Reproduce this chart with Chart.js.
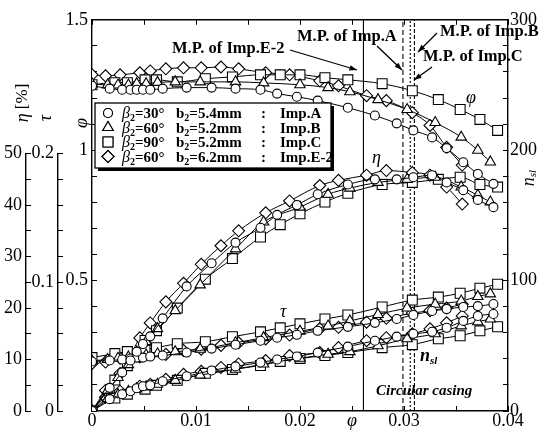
<!DOCTYPE html>
<html>
<head>
<meta charset="utf-8">
<script src="https://cdn.jsdelivr.net/npm/chart.js"></script>
<style>
  html, body { margin: 0; padding: 0; background: #fff; }
  #chart { display: block; }
</style>
</head>
<body>
<canvas id="chart" width="543" height="432"></canvas>
<script>
const SERIF = "'Liberation Serif', 'Times New Roman', serif";

// Imp.A  (beta2=30deg, b2=5.4mm) - circles
const flowA = [0, .0017, .0029, .0037, .0043, .0049, .0056, .0068, .0091, .0115, .0138, .0162, .0178, .0197, .0217, .0246, .0272, .0293, .0309, .0327, .0341, .0357, .0371, .0386];
const phiA  = [1.247, 1.236, 1.232, 1.232, 1.232, 1.232, 1.232, 1.236, 1.240, 1.240, 1.236, 1.232, 1.217, 1.205, 1.190, 1.163, 1.133, 1.103, 1.076, 1.049, 1.008, 0.954, 0.909, 0.871];
const etaA  = [0, 4.5, 7.5, 9.8, 11.5, 13.0, 14.5, 18.0, 24.2, 28.7, 32.7, 35.6, 38.1, 40.0, 42.1, 44.0, 45.0, 45.0, 45.4, 45.8, 44.4, 42.9, 41.0, 39.6];
const tauA  = [.0385, .0392, .0400, .0408, .0415, .0415, .0423, .0431, .0454, .0485, .0515, .0546, .0569, .0592, .0623, .0654, .0685, .0715, .0746, .0777, .0792, .0808, .0815, .0831];
const nslA  = [0, 9.1, 12.9, 15.2, 17.5, 19.0, 19.7, 22.8, 26.6, 31.1, 34.2, 37.2, 39.5, 41.8, 44.8, 49.4, 53.9, 57.0, 59.2, 60.8, 63.8, 69.1, 72.9, 74.4];

// Imp.B  (beta2=60deg, b2=5.2mm) - triangles
const flowB = [0, .0015, .0025, .0035, .0043, .0052, .0063, .0080, .0104, .0138, .0165, .0200, .0227, .0248, .0275, .0303, .0330, .0355, .0371, .0383];
const phiB  = [1.255, 1.250, 1.250, 1.250, 1.255, 1.255, 1.260, 1.262, 1.262, 1.262, 1.258, 1.251, 1.240, 1.224, 1.194, 1.156, 1.106, 1.050, 1.000, 0.955];
const etaB  = [0, 4.0, 6.5, 9.0, 11.5, 13.5, 16.0, 19.5, 24.5, 31.5, 36.7, 39.6, 42.1, 43.3, 44.4, 45.0, 45.4, 43.5, 41.9, 40.6];
const tauB  = [.0390, .0400, .0410, .0420, .0430, .0435, .0445, .0460, .0480, .0530, .0570, .0620, .0660, .0700, .0750, .0800, .0830, .0854, .0890, .0910];
const nslB  = [0, 9.5, 12.5, 15.0, 17.0, 18.5, 20.5, 23.5, 27.5, 32.0, 36.0, 40.5, 43.5, 45.5, 50.0, 55.4, 59.2, 65.3, 68.4, 70.6];

// Imp.C  (beta2=90deg, b2=5.2mm) - squares
const flowC = [0, .0022, .0034, .0051, .0062, .0082, .0109, .0135, .0162, .0181, .0200, .0224, .0246, .0279, .0308, .0333, .0354, .0373, .0390];
const phiC  = [1.251, 1.259, 1.259, 1.270, 1.270, 1.262, 1.274, 1.281, 1.289, 1.289, 1.289, 1.278, 1.270, 1.255, 1.228, 1.194, 1.156, 1.118, 1.076];
const etaC  = [0, 6.0, 8.8, 13.7, 15.6, 20.0, 25.6, 29.6, 33.8, 36.2, 38.3, 40.6, 42.3, 44.0, 44.4, 45.0, 45.4, 44.0, 43.5];
const tauC  = [.0415, .0446, .0462, .0477, .0492, .0523, .0538, .0577, .0615, .0646, .0677, .0715, .0746, .0808, .0862, .0885, .0915, .0954, .0985];
const nslC  = [0, 9.9, 12.9, 16.7, 19.7, 23.5, 28.9, 31.9, 34.9, 38.0, 40.3, 42.5, 44.8, 48.6, 50.9, 55.4, 57.7, 61.5, 64.6];

// Imp.E-2 (beta2=60deg, b2=6.2mm) - diamonds
const flowE = [0, .0013, .0027, .0046, .0056, .0071, .0088, .0105, .0124, .0141, .0167, .0190, .0219, .0237, .0264, .0283, .0308, .0325, .0341, .0356];
const phiE  = [1.289, 1.285, 1.289, 1.297, 1.304, 1.312, 1.316, 1.316, 1.319, 1.312, 1.297, 1.289, 1.266, 1.247, 1.209, 1.190, 1.144, 1.095, 1.011, 0.943];
const etaE  = [0, 4.0, 7.3, 14.2, 17.1, 21.2, 24.8, 28.5, 32.1, 35.0, 38.5, 40.8, 43.8, 44.8, 45.8, 46.7, 46.3, 45.8, 43.5, 40.2];
const tauE  = [.037, .038, .041, .042, .044, .044, .047, .048, .051, .053, .056, .059, .064, .065, .069, .072, .076, .078, .080, .083];
const nslE  = [0, 10.6, 15.2, 19.0, 20.5, 24.3, 28.1, 30.4, 33.4, 36.1, 38.7, 42.5, 44.8, 48.6, 53.9, 56.2, 59.2, 63.0, 67.6, 72.9];

// maximum efficiency points (E-2, A, C, B)
const mpFlow = [0.0261, 0.0299, 0.0306, 0.0310];
const mpDash = [[], [5, 3], [2, 2], [4, 2]];

// legend rows
const legendBeta = ['30°', '60°', '90°', '60°'];
const legendWidth = ['5.4mm', '5.2mm', '5.2mm', '6.2mm'];
const legendName = ['Imp.A', 'Imp.B', 'Imp.C', 'Imp.E-2'];

// tick labels
const xTickLabels = ['0', '0.01', '0.02', '0.03', '0.04'];
const phiTickLabels = ['', '0.5', '1', '1.5'];
const etaTickLabels = ['0', '10', '20', '30', '40', '50'];
const tauTickLabels = ['0', '0.1', '0.2'];
const nslTickLabels = ['0', '100', '200', '300'];

const impellers = [
  {style: 'circle',   r: 4.5, flow: flowA, phi: phiA, eta: etaA, tau: tauA, nsl: nslA},
  {style: 'triangle', r: 6,   flow: flowB, phi: phiB, eta: etaB, tau: tauB, nsl: nslB},
  {style: 'rect',     r: 7,   flow: flowC, phi: phiC, eta: etaC, tau: tauC, nsl: nslC},
  {style: 'rectRot',  r: 6,   flow: flowE, phi: phiE, eta: etaE, tau: tauE, nsl: nslE},
];

const near = (a, b) => Math.abs(a - b) < 1e-7;
const pairs = (xs, ys) => xs.map((x, i) => ({x: x, y: ys[i]}));

const datasets = [];
impellers.forEach(imp => {
  [['phi', 'yPhi'], ['eta', 'yEta'], ['tau', 'yTau'], ['nsl', 'yNsl']].forEach(([key, axis]) => {
    datasets.push({
      data: pairs(imp.flow, imp[key]),
      xAxisID: 'x',
      yAxisID: axis,
      borderColor: '#000',
      borderWidth: 1,
      cubicInterpolationMode: 'monotone',
      pointStyle: imp.style,
      pointRadius: imp.r,
      pointBackgroundColor: '#fff',
      pointBorderColor: '#000',
      pointBorderWidth: 1.1,
    });
  });
});
mpFlow.forEach((f, i) => {
  datasets.push({
    data: [{x: f, y: 0}, {x: f, y: 1.5}],
    xAxisID: 'x',
    yAxisID: 'yPhi',
    borderColor: '#000',
    borderWidth: 1.1,
    borderDash: mpDash[i],
    pointRadius: 0,
  });
});

const tickFont = {family: SERIF, size: 18};
const inwardGrid = () => ({drawOnChartArea: false, tickLength: -5, color: '#000', lineWidth: 1});
const frame = {color: '#000', width: 1.4};

function labelAt(v, step, labels) {
  const k = Math.round(v / step);
  return near(v, k * step) ? (labels[k] || '') : '';
}

// rich text pieces: [{t, f, dy}]
function rich(ctx, x, y, parts) {
  parts.forEach(p => {
    ctx.font = p.f;
    ctx.fillText(p.t, x, y + (p.dy || 0));
    x += ctx.measureText(p.t).width;
  });
  return x;
}

function rotated(ctx, cx, cy, parts) {
  ctx.save();
  ctx.translate(cx, cy);
  ctx.rotate(-Math.PI / 2);
  ctx.textBaseline = 'middle';
  let w = 0;
  parts.forEach(p => { ctx.font = p.f; w += ctx.measureText(p.t).width; });
  rich(ctx, -w / 2, 0, parts);
  ctx.restore();
}

function arrow(ctx, x1, y1, x2, y2) {
  const a = Math.atan2(y2 - y1, x2 - x1), h = 8;
  ctx.lineWidth = 1.3;
  ctx.beginPath();
  ctx.moveTo(x1, y1);
  ctx.lineTo(x2, y2);
  ctx.stroke();
  ctx.beginPath();
  ctx.moveTo(x2, y2);
  ctx.lineTo(x2 - h * Math.cos(a - 0.35), y2 - h * Math.sin(a - 0.35));
  ctx.lineTo(x2 - h * Math.cos(a + 0.35), y2 - h * Math.sin(a + 0.35));
  ctx.closePath();
  ctx.fill();
}

const notes = {
  id: 'notes',
  afterDraw(chart) {
    const ctx = chart.ctx;
    ctx.save();
    ctx.fillStyle = '#000';
    ctx.strokeStyle = '#000';
    ctx.textBaseline = 'alphabetic';

    // legend box with drop shadow
    ctx.fillRect(98, 106, 236, 65);
    ctx.fillStyle = '#fff';
    ctx.fillRect(95, 103, 236, 65);
    ctx.fillStyle = '#000';
    ctx.lineWidth = 1.3;
    ctx.strokeRect(95, 103, 236, 65);
    const bold = s => 'bold ' + s + 'px ' + SERIF;
    for (let i = 0; i < 4; i++) {
      const y = 113 + i * 14.5;
      ctx.lineWidth = 1.1;
      ctx.fillStyle = '#fff';
      Chart.helpers.drawPoint(ctx, {pointStyle: impellers[i].style, radius: impellers[i].r, borderWidth: 1.1}, 108, y);
      ctx.fill();
      ctx.stroke();
      ctx.fillStyle = '#000';
      const base = y + 5;
      rich(ctx, 122, base, [
        {t: 'β', f: 'italic 16px ' + SERIF},
        {t: '2', f: bold(10), dy: 3},
        {t: '=' + legendBeta[i], f: bold(15)},
      ]);
      rich(ctx, 176, base, [
        {t: 'b', f: bold(15)},
        {t: '2', f: bold(10), dy: 3},
        {t: '=' + legendWidth[i], f: bold(15)},
      ]);
      ctx.font = bold(15);
      ctx.fillText(':', 261, base);
      ctx.fillText(legendName[i], 280, base);
    }

    // maximum-point notes
    ctx.font = bold(16.5);
    ctx.fillText('M.P. of Imp.E-2', 172, 53);
    ctx.fillText('M.P. of Imp.A', 297, 41);
    ctx.fillText('M.P. of Imp.B', 440, 36);
    ctx.fillText('M.P. of Imp.C', 423, 61);
    arrow(ctx, 290, 50, 357, 70);
    arrow(ctx, 377, 46, 402, 70);
    arrow(ctx, 437, 33, 418, 52);
    arrow(ctx, 432, 67, 414, 80);

    // curve labels
    ctx.textBaseline = 'middle';
    ctx.font = 'italic 18px ' + SERIF;
    ctx.fillText('φ', 466, 98);
    ctx.fillText('η', 372, 158);
    ctx.fillText('τ', 280, 312);
    ctx.textBaseline = 'alphabetic';
    rich(ctx, 420, 361, [
      {t: 'n', f: 'bold italic 18px ' + SERIF},
      {t: 'sl', f: 'bold italic 11px ' + SERIF, dy: 3},
    ]);
    ctx.font = 'bold italic 15px ' + SERIF;
    ctx.fillText('Circular casing', 376, 395);

    // axis titles
    rotated(ctx, 23, 103, [
      {t: 'η', f: 'italic 18px ' + SERIF},
      {t: ' [%]', f: '17px ' + SERIF},
    ]);
    rotated(ctx, 46, 118, [{t: 'τ', f: 'italic 18px ' + SERIF}]);
    rotated(ctx, 82, 123, [{t: 'φ', f: 'italic 18px ' + SERIF}]);
    rotated(ctx, 529, 178, [
      {t: 'n', f: 'italic 18px ' + SERIF},
      {t: 'sl', f: 'italic 11px ' + SERIF, dy: 4},
    ]);
    ctx.restore();
  }
};

new Chart(document.getElementById('chart'), {
  type: 'line',
  data: {datasets: datasets},
  options: {
    responsive: false,
    animation: false,
    devicePixelRatio: 1,
    events: [],
    layout: {padding: 0},
    plugins: {legend: {display: false}, tooltip: {enabled: false}},
    scales: {
      x: {
        type: 'linear', position: 'bottom', min: 0, max: 0.04,
        ticks: {
          stepSize: 0.005, autoSkip: false, maxRotation: 0, color: '#000', padding: 4,
          font: ctx => (ctx.tick && near(ctx.tick.value, 0.025)) ? {family: SERIF, size: 18, style: 'italic'} : tickFont,
          callback: v => near(v, 0.025) ? 'φ' : labelAt(v, 0.01, xTickLabels),
        },
        grid: inwardGrid(), border: frame,
        afterFit: s => { s.height = 21; },
      },
      xTop: {
        type: 'linear', position: 'top', min: 0, max: 0.04,
        ticks: {stepSize: 0.005, autoSkip: false, display: false},
        grid: inwardGrid(), border: frame,
        afterFit: s => { s.height = 16; },
      },
      yEtaPad: {
        type: 'linear', position: 'left', stack: 'eta', stackWeight: 0.342, weight: 5, min: 0, max: 1,
        ticks: {display: false}, grid: {display: false}, border: {display: false},
        afterFit: s => { s.width = 26; },
      },
      yEta: {
        type: 'linear', position: 'left', stack: 'eta', stackWeight: 0.658, weight: 4, min: 0, max: 50,
        ticks: {stepSize: 5, autoSkip: false, color: '#000', padding: 9, font: tickFont,
          callback: v => labelAt(v, 10, etaTickLabels)},
        grid: inwardGrid(), border: frame,
        afterFit: s => { s.width = 26; },
      },
      yTauPad: {
        type: 'linear', position: 'left', stack: 'tau', stackWeight: 0.342, weight: 3, min: 0, max: 1,
        ticks: {display: false}, grid: {display: false}, border: {display: false},
        afterFit: s => { s.width = 32; },
      },
      yTau: {
        type: 'linear', position: 'left', stack: 'tau', stackWeight: 0.658, weight: 2, min: 0, max: 0.2,
        ticks: {stepSize: 0.02, autoSkip: false, color: '#000', padding: 9, font: tickFont,
          callback: v => labelAt(v, 0.1, tauTickLabels)},
        grid: inwardGrid(), border: frame,
        afterFit: s => { s.width = 32; },
      },
      yPhi: {
        type: 'linear', position: 'left', weight: 1, min: 0, max: 1.5,
        ticks: {stepSize: 0.1, autoSkip: false, color: '#000', padding: 9, font: tickFont,
          callback: v => labelAt(v, 0.5, phiTickLabels)},
        grid: inwardGrid(), border: frame,
        afterFit: s => { s.width = 34; },
      },
      yNsl: {
        type: 'linear', position: 'right', min: 0, max: 300,
        ticks: {stepSize: 20, autoSkip: false, color: '#000', padding: 7, font: tickFont,
          callback: v => labelAt(v, 100, nslTickLabels)},
        grid: inwardGrid(), border: frame,
        afterFit: s => { s.width = 35; },
      },
    },
  },
  plugins: [notes],
});
</script>
</body>
</html>
